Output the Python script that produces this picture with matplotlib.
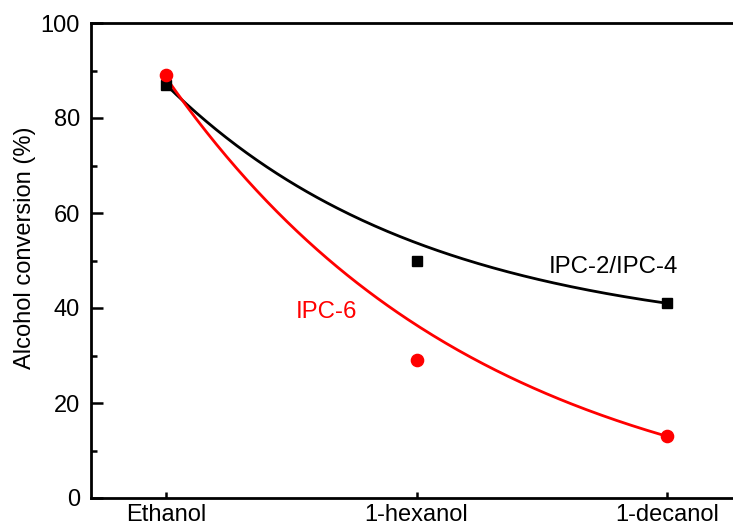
"""
Alcohol conversion for the IPC catalysts: measured points and fitted decay curves.
"""
import numpy as np
import matplotlib
matplotlib.use("Agg")
import matplotlib.pyplot as plt

alcoholes = ["Ethanol", "1-hexanol", "1-decanol"]

# measured points
ipc24 = [87, 50, 41]
ipc6 = [89, 29, 13]

# where the fitted curves cross each alcohol
curva_ipc24 = [87, 53.7, 41]
curva_ipc6 = [88.5, 36.4, 13]


def curva_exp(valores, n=200):
    """Exponential decay y = c + u*q**x through three equally spaced values."""
    y0, y1, y2 = valores
    q = (y2 - y1) / (y1 - y0)
    u = (y0 - y1) / (1 - q)
    c = y0 - u
    x = np.linspace(0, len(valores) - 1, n)
    return x, c + u * q ** x


def graficar():
    plt.rcParams['font.family'] = ['Liberation Sans', 'DejaVu Sans']
    fig = plt.figure(figsize=(7.33, 5.26), dpi=100)
    ax = fig.add_axes([91 / 733, 28 / 526, 651 / 733, 475 / 526])

    pos = np.arange(len(alcoholes))

    x, y = curva_exp(curva_ipc24)
    ax.plot(x, y, color='black', lw=2, zorder=2)
    x, y = curva_exp(curva_ipc6)
    ax.plot(x, y, color='#ff0000', lw=2, zorder=2)

    ax.plot(pos, ipc24, 's', color='black', ms=7.7, zorder=3)
    ax.plot(pos, ipc6, 'o', color='#ff0000', ms=8.8, zorder=3)

    ax.text(1.786, 48.6, "IPC-2/IPC-4", fontsize=17.3, color='black',
            ha='center', va='center')
    ax.text(0.639, 39.2, "IPC-6", fontsize=17.3, color='#ff0000',
            ha='center', va='center')

    ax.set_xlim(-0.3, 2.3)
    ax.set_ylim(0, 100)
    ax.set_xticks(pos)
    ax.set_xticklabels(alcoholes)
    ax.set_yticks(np.arange(0, 101, 20))
    ax.set_yticks(np.arange(10, 100, 20), minor=True)

    ax.tick_params(axis='y', which='major', direction='in', length=8.5,
                   width=1.8, labelsize=17, pad=8)
    ax.tick_params(axis='y', which='minor', direction='in', length=4.5,
                   width=1.8)
    ax.tick_params(axis='x', which='major', direction='in', length=4,
                   width=1.8, labelsize=17, pad=4)

    for lado in ['left', 'bottom', 'top', 'right']:
        ax.spines[lado].set_linewidth(2)

    ax.set_ylabel("Alcohol conversion (%)", fontsize=17)
    ax.yaxis.set_label_coords(-0.085, 0.526)

    fig.savefig("out.png", dpi=100)


if __name__ == "__main__":
    graficar()
